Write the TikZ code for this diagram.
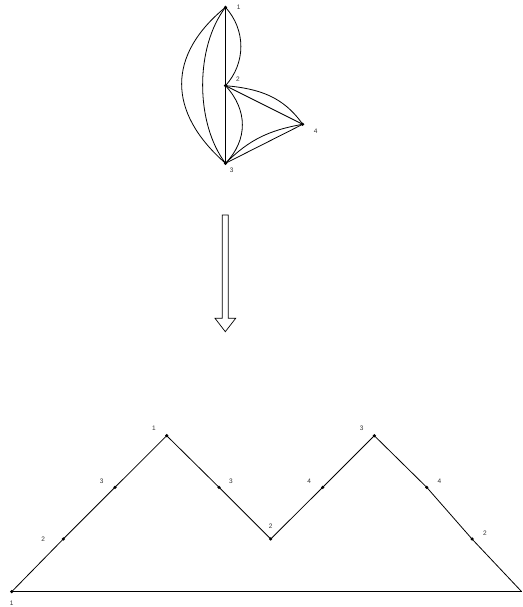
\documentclass[tikz,border=0pt]{standalone}
\usepackage{fontspec}
\setmainfont{Liberation Sans}
\begin{document}
\begin{tikzpicture}[x=1pt,y=1pt,
  vtx/.style={circle,fill=black,inner sep=0pt,minimum size=3.5pt},
  lbl/.style={font=\fontsize{6.5}{7}\selectfont,text=black!80,inner sep=0pt},
  edge/.style={line width=0.8pt}]
\useasboundingbox (0,0) rectangle (522,607);
% top graph
\node[vtx] (n1) at (225.5,599.7) {};
\node[vtx] (n2) at (225.5,521.3) {};
\node[vtx] (n4) at (302.7,482.7) {};
\node[vtx] (n3) at (225.5,443.7) {};
\node[lbl] (t1) at (238.7,599.7) {1};
\node[lbl] (t2) at (238,527.7) {2};
\node[lbl] (t4) at (315.7,476) {4};
\node[lbl] (t3) at (231.7,437) {3};
\draw[edge] (n1.center) -- (n3.center);
\draw[edge] (n1.center) .. controls (167,552) and (167,495) .. (n3.center);
\draw[edge] (n1.center) .. controls (195,560) and (195,484) .. (n3.center);
\draw[edge] (n1.center) .. controls (246,577) and (246,544) .. (n2.center);
\draw[edge] (n2.center) .. controls (248,497) and (248,467) .. (n3.center);
\draw[edge] (n2.center) -- (n4.center);
\draw[edge] (n2.center) to[out=-5,in=125] (n4.center);
\draw[edge] (n3.center) -- (n4.center);
\draw[edge] (n3.center) to[out=45,in=190] (n4.center);
% big arrow
\draw[line width=0.7pt] (222.3,392) -- (228.3,392) -- (228.3,288.7) -- (235.7,288.7)
  -- (225.3,275.3) -- (215,288.7) -- (222.3,288.7) -- cycle;
% bottom path
\node[vtx] (b0) at (11.7,15.3) {};
\node[vtx] (ba) at (63.3,68) {};
\node[vtx] (bb) at (115,119.7) {};
\node[vtx] (bc) at (166.7,171.3) {};
\node[vtx] (bd) at (219,119.7) {};
\node[vtx] (be) at (270.7,68) {};
\node[vtx] (bf) at (322.7,119.7) {};
\node[vtx] (bg) at (374.3,171.3) {};
\node[vtx] (bh) at (426.7,119.7) {};
\node[vtx] (bi) at (472,68) {};
\coordinate (bj) at (521.7,15.3);
\node[lbl] (s0) at (11.7,3.7) {1};
\node[lbl] (sa) at (43.3,68) {2};
\node[lbl] (sb) at (101.7,125.3) {3};
\node[lbl] (sc) at (154,178.7) {1};
\node[lbl] (sd) at (231,125.3) {3};
\node[lbl] (se) at (270.7,80.3) {2};
\node[lbl] (sf) at (309.3,125.3) {4};
\node[lbl] (sg) at (361.7,178.7) {3};
\node[lbl] (sh) at (439.3,125.3) {4};
\node[lbl] (si) at (485,73.7) {2};
\draw[edge] (b0.center) -- (ba.center) -- (bb.center) -- (bc.center) -- (bd.center)
  -- (be.center) -- (bf.center) -- (bg.center) -- (bh.center) -- (bi.center) -- (bj);
\draw[edge] (b0.center) -- (bj);
\end{tikzpicture}
\end{document}
